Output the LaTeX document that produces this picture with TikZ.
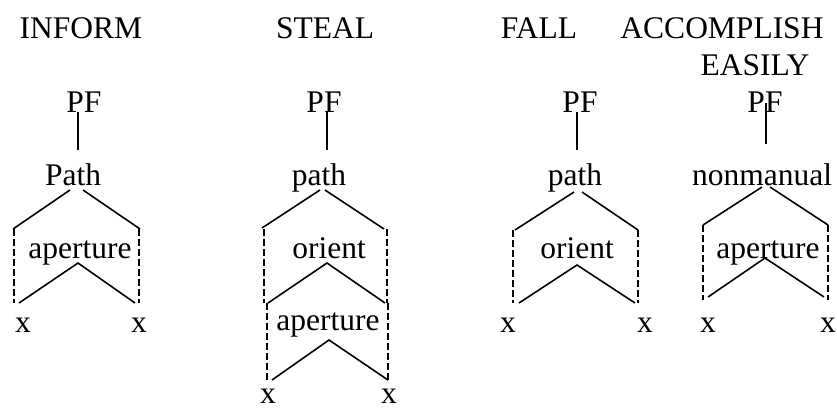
\documentclass[tikz,border=0pt]{standalone}
\usepackage{fontspec}
\setmainfont{Liberation Serif}
\begin{document}
\begin{tikzpicture}[x=1pt,y=-1pt,
  lab/.style={anchor=base,inner sep=0pt,font=\fontsize{31.5}{36}\selectfont},
  edge/.style={line width=1.6pt},
  dsh/.style={line width=1.6pt,dash pattern=on 6.5pt off 3.5pt}]
\useasboundingbox (0,0) rectangle (837,408);
% Panel 1
\node[lab] (t1) at (81,38) {INFORM};
\node[lab] (pf1) at (84,112) {PF};
\node[lab] (p1) at (73,185) {Path};
\node[lab] (a1) at (80,258) {aperture};
\node[lab] (x1l) at (23,332) {x};
\node[lab] (x1r) at (139,332) {x};
\coordinate (q1a) at (78,112); \coordinate (q1b) at (78,150);
\coordinate (l1a) at (70,190); \coordinate (l1b) at (13,229);
\coordinate (r1a) at (83,190); \coordinate (r1b) at (140,229);
\coordinate (dl1a) at (14,229); \coordinate (dl1b) at (14,303);
\coordinate (dr1a) at (139,229); \coordinate (dr1b) at (139,303);
\coordinate (ap1) at (78,263); \coordinate (il1) at (19,303); \coordinate (ir1) at (135,303);
\draw[edge] (q1a) -- (q1b);
\draw[edge] (l1a) -- (l1b);
\draw[edge] (r1a) -- (r1b);
\draw[dsh] (dl1a) -- (dl1b);
\draw[dsh] (dr1a) -- (dr1b);
\draw[edge] (il1) -- (ap1) -- (ir1);
% Panel 2
\node[lab] (t2) at (325,38) {STEAL};
\node[lab] (pf2) at (324,112) {PF};
\node[lab] (p2) at (319,185) {path};
\node[lab] (o2) at (329,258) {orient};
\node[lab] (a2) at (328,330) {aperture};
\node[lab] (x2l) at (268,403) {x};
\node[lab] (x2r) at (389,403) {x};
\coordinate (q2a) at (327,112); \coordinate (q2b) at (327,150);
\coordinate (l2a) at (320,190); \coordinate (l2b) at (262,228);
\coordinate (r2a) at (325,190); \coordinate (r2b) at (384,229);
\coordinate (dl2a) at (264,229); \coordinate (dl2b) at (264,303);
\coordinate (dr2a) at (387,229); \coordinate (dr2b) at (387,303);
\coordinate (ap2) at (327,263); \coordinate (il2) at (268,303); \coordinate (ir2) at (385,303);
\coordinate (dl2c) at (267,303); \coordinate (dl2d) at (267,382);
\coordinate (dr2c) at (388,303); \coordinate (dr2d) at (388,382);
\coordinate (bp2) at (329,340); \coordinate (bl2) at (272,380); \coordinate (br2) at (388,380);
\draw[edge] (q2a) -- (q2b);
\draw[edge] (l2a) -- (l2b);
\draw[edge] (r2a) -- (r2b);
\draw[dsh] (dl2a) -- (dl2b);
\draw[dsh] (dr2a) -- (dr2b);
\draw[edge] (il2) -- (ap2) -- (ir2);
\draw[dsh] (dl2c) -- (dl2d);
\draw[dsh] (dr2c) -- (dr2d);
\draw[edge] (bl2) -- (bp2) -- (br2);
% Panel 3
\node[lab] (t3) at (539,38) {FALL};
\node[lab] (pf3) at (580,112) {PF};
\node[lab] (p3) at (575,185) {path};
\node[lab] (o3) at (577,258) {orient};
\node[lab] (x3l) at (508,332) {x};
\node[lab] (x3r) at (645,332) {x};
\coordinate (q3a) at (577,112); \coordinate (q3b) at (577,150);
\coordinate (l3a) at (574,192); \coordinate (l3b) at (515,230);
\coordinate (r3a) at (582,192); \coordinate (r3b) at (638,230);
\coordinate (dl3a) at (513,230); \coordinate (dl3b) at (513,303);
\coordinate (dr3a) at (638,230); \coordinate (dr3b) at (638,303);
\coordinate (ap3) at (577,265); \coordinate (il3) at (519,303); \coordinate (ir3) at (635,303);
\draw[edge] (q3a) -- (q3b);
\draw[edge] (l3a) -- (l3b);
\draw[edge] (r3a) -- (r3b);
\draw[dsh] (dl3a) -- (dl3b);
\draw[dsh] (dr3a) -- (dr3b);
\draw[edge] (il3) -- (ap3) -- (ir3);
% Panel 4
\node[lab] (t4a) at (722,38) {ACCOMPLISH};
\node[lab] (t4b) at (755,75) {EASILY};
\node[lab] (pf4) at (765,112) {PF};
\node[lab] (n4) at (762,185) {nonmanual};
\node[lab] (a4) at (768,258) {aperture};
\node[lab] (x4l) at (708,332) {x};
\node[lab] (x4r) at (828,332) {x};
\coordinate (q4a) at (766,103); \coordinate (q4b) at (766,144);
\coordinate (l4a) at (762,187); \coordinate (l4b) at (703,225);
\coordinate (r4a) at (770,187); \coordinate (r4b) at (828,225);
\coordinate (dl4a) at (703,225); \coordinate (dl4b) at (703,300);
\coordinate (dr4a) at (828,225); \coordinate (dr4b) at (828,300);
\coordinate (ap4) at (765,258); \coordinate (il4) at (708,297); \coordinate (ir4) at (824,297);
\draw[edge] (q4a) -- (q4b);
\draw[edge] (l4a) -- (l4b);
\draw[edge] (r4a) -- (r4b);
\draw[dsh] (dl4a) -- (dl4b);
\draw[dsh] (dr4a) -- (dr4b);
\draw[edge] (il4) -- (ap4) -- (ir4);
\end{tikzpicture}
\end{document}
